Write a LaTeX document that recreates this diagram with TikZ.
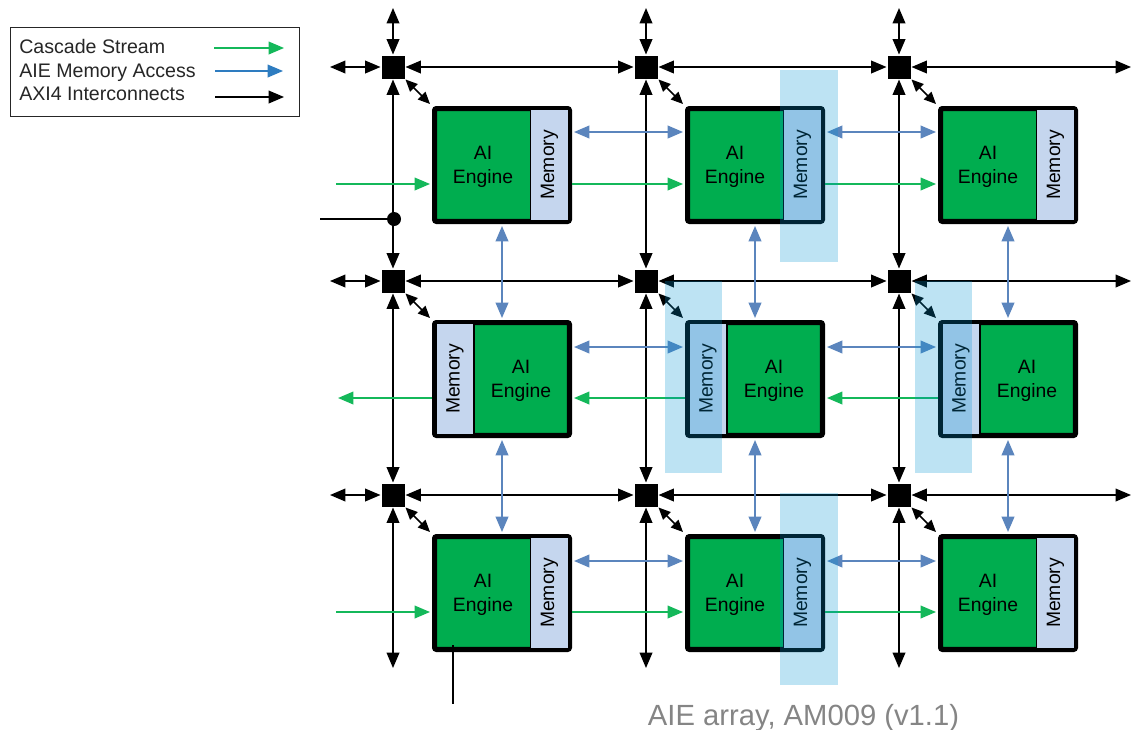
\documentclass[tikz,border=0pt]{standalone}
\usepackage{fontspec}
\setmainfont{Liberation Sans}
\usetikzlibrary{arrows.meta}
\definecolor{aiegreen}{HTML}{00AD4F}
\definecolor{memfill}{HTML}{C5D6EE}
\definecolor{cascgreen}{HTML}{14B85A}
\definecolor{memblue}{HTML}{5B85BD}
\definecolor{legblue}{HTML}{2E7CC0}
\definecolor{hilite}{HTML}{0094D2}
\definecolor{captgray}{HTML}{858585}
\tikzset{
    switchbox/.style={draw=none, fill=black, minimum size=17.25pt, inner sep=0pt, outer sep=0.75pt},
    tile/.style={draw=black, fill=aiegreen, line width=3.8pt, rounded corners=1.5pt, minimum width=101.2pt, minimum height=84.7pt, outer sep=3.4pt},
    engine/.style={align=center, inner sep=0pt, font=\fontsize{14.5}{18}\selectfont},
    memory/.style={draw=black, fill=memfill, line width=0.8pt, rotate=90, minimum width=83pt, minimum height=28.5pt, inner sep=0pt, font=\fontsize{14.5}{18}\selectfont},
    axi/.style={<->, line width=1.1pt},
    diag/.style={{Stealth[length=9pt,width=8pt,inset=0pt]}-{Stealth[length=9pt,width=8pt,inset=0pt]}, line width=1.1pt},
    memlink/.style={<->, memblue, line width=1.3pt},
    cascade/.style={->, cascgreen, line width=1.1pt},
    legendtext/.style={anchor=base west, inner sep=0pt, font=\fontsize{14.7}{18}\selectfont, text=black!85},
    highlight/.style={fill=hilite, fill opacity=0.26}
}
\begin{document}
\begin{tikzpicture}[>={Stealth[length=11.5pt,width=9.5pt,inset=0pt]}, x=0.75pt, y=-0.75pt]
    \useasboundingbox (0, 0) rectangle (1131, 729);

    % Legend
    \node[draw=black!85, line width=0.8pt, minimum width=216.75pt, minimum height=66.75pt, inner sep=0pt] (legend) at (155, 72) {};
    \node[legendtext] (legcasc) at (19, 53) {Cascade Stream};
    \node[legendtext] (legmem) at (19, 77) {AIE Memory Access};
    \node[legendtext] (legaxi) at (19, 100) {AXI4 Interconnects};
    \coordinate (legcasca) at (214, 48);
    \coordinate (legcascb) at (284, 48);
    \coordinate (legmema) at (215, 71);
    \coordinate (legmemb) at (283, 71);
    \coordinate (legaxia) at (215, 97);
    \coordinate (legaxib) at (284, 97);
    \draw[->, cascgreen, line width=1.1pt] (legcasca) -- (legcascb);
    \draw[->, legblue, line width=1.1pt] (legmema) -- (legmemb);
    \draw[->, line width=1.1pt] (legaxia) -- (legaxib);

    % Switches
    \node[switchbox] (sw11) at (393, 67) {};
    \node[switchbox] (sw12) at (646, 67) {};
    \node[switchbox] (sw13) at (899, 67) {};
    \node[switchbox] (sw21) at (393, 281) {};
    \node[switchbox] (sw22) at (646, 281) {};
    \node[switchbox] (sw23) at (899, 281) {};
    \node[switchbox] (sw31) at (393, 495) {};
    \node[switchbox] (sw32) at (646, 495) {};
    \node[switchbox] (sw33) at (899, 495) {};

    % Top row of tiles
    \node[tile] (tile11) at (502, 165) {};
    \node[tile] (tile12) at (755, 165) {};
    \node[tile] (tile13) at (1008, 165) {};
    \node[memory] (mem11) at (549.5, 165) {Memory};
    \node[memory] (mem12) at (802.5, 165) {Memory};
    \node[memory] (mem13) at (1055.5, 165) {Memory};
    \node[engine] (eng11) at (483, 167) {AI\\Engine};
    \node[engine] (eng12) at (735, 167) {AI\\Engine};
    \node[engine] (eng13) at (988, 167) {AI\\Engine};

    % Middle row of tiles
    \node[tile] (tile21) at (502, 379) {};
    \node[tile] (tile22) at (755, 379) {};
    \node[tile] (tile23) at (1008, 379) {};
    \node[memory] (mem21) at (455, 379) {Memory};
    \node[memory] (mem22) at (708, 379) {Memory};
    \node[memory] (mem23) at (961, 379) {Memory};
    \node[engine] (eng21) at (521, 381) {AI\\Engine};
    \node[engine] (eng22) at (774, 381) {AI\\Engine};
    \node[engine] (eng23) at (1027, 381) {AI\\Engine};

    % Bottom row of tiles
    \node[tile] (tile31) at (502, 593) {};
    \node[tile] (tile32) at (755, 593) {};
    \node[tile] (tile33) at (1008, 593) {};
    \node[memory] (mem31) at (549.5, 593) {Memory};
    \node[memory] (mem32) at (802.5, 593) {Memory};
    \node[memory] (mem33) at (1055.5, 593) {Memory};
    \node[engine] (eng31) at (483, 595) {AI\\Engine};
    \node[engine] (eng32) at (735, 595) {AI\\Engine};
    \node[engine] (eng33) at (988, 595) {AI\\Engine};

    % Free ends of the interconnects
    \coordinate (west1) at (330, 67);
    \coordinate (west2) at (330, 281);
    \coordinate (west3) at (330, 495);
    \coordinate (east1) at (1131, 67);
    \coordinate (east2) at (1131, 281);
    \coordinate (east3) at (1131, 495);
    \coordinate (north1) at (393, 8);
    \coordinate (north2) at (646, 8);
    \coordinate (north3) at (899, 8);
    \coordinate (south1) at (393, 668);
    \coordinate (south2) at (646, 668);
    \coordinate (south3) at (899, 668);

    % Horizontal interconnects
    \draw[axi] (west1) -- (sw11.west);
    \draw[axi] (sw11.east) -- (sw12.west);
    \draw[axi] (sw12.east) -- (sw13.west);
    \draw[axi] (sw13.east) -- (east1);
    \draw[axi] (west2) -- (sw21.west);
    \draw[axi] (sw21.east) -- (sw22.west);
    \draw[axi] (sw22.east) -- (sw23.west);
    \draw[axi] (sw23.east) -- (east2);
    \draw[axi] (west3) -- (sw31.west);
    \draw[axi] (sw31.east) -- (sw32.west);
    \draw[axi] (sw32.east) -- (sw33.west);
    \draw[axi] (sw33.east) -- (east3);

    % Vertical interconnects
    \draw[axi] (north1) -- (sw11.north);
    \draw[axi] (sw11.south) -- (sw21.north);
    \draw[axi] (sw21.south) -- (sw31.north);
    \draw[axi] (sw31.south) -- (south1);
    \draw[axi] (north2) -- (sw12.north);
    \draw[axi] (sw12.south) -- (sw22.north);
    \draw[axi] (sw22.south) -- (sw32.north);
    \draw[axi] (sw32.south) -- (south2);
    \draw[axi] (north3) -- (sw13.north);
    \draw[axi] (sw13.south) -- (sw23.north);
    \draw[axi] (sw23.south) -- (sw33.north);
    \draw[axi] (sw33.south) -- (south3);

    % Switch to tile
    \draw[diag] (sw11.south east) -- (tile11.north west);
    \draw[diag] (sw12.south east) -- (tile12.north west);
    \draw[diag] (sw13.south east) -- (tile13.north west);
    \draw[diag] (sw21.south east) -- (tile21.north west);
    \draw[diag] (sw22.south east) -- (tile22.north west);
    \draw[diag] (sw23.south east) -- (tile23.north west);
    \draw[diag] (sw31.south east) -- (tile31.north west);
    \draw[diag] (sw32.south east) -- (tile32.north west);
    \draw[diag] (sw33.south east) -- (tile33.north west);

    % Memory access, vertical
    \draw[memlink] (tile11.south) -- (tile21.north);
    \draw[memlink] (tile12.south) -- (tile22.north);
    \draw[memlink] (tile13.south) -- (tile23.north);
    \draw[memlink] (tile21.south) -- (tile31.north);
    \draw[memlink] (tile22.south) -- (tile32.north);
    \draw[memlink] (tile23.south) -- (tile33.north);

    % Memory access, horizontal
    \draw[memlink] ([shift={(0,-33)}]tile11.east) -- ([shift={(0,-33)}]tile12.west);
    \draw[memlink] ([shift={(0,-33)}]tile12.east) -- ([shift={(0,-33)}]tile13.west);
    \draw[memlink] ([shift={(0,-32)}]tile21.east) -- ([shift={(0,-32)}]tile22.west);
    \draw[memlink] ([shift={(0,-32)}]tile22.east) -- ([shift={(0,-32)}]tile23.west);
    \draw[memlink] ([shift={(0,-32)}]tile31.east) -- ([shift={(0,-32)}]tile32.west);
    \draw[memlink] ([shift={(0,-32)}]tile32.east) -- ([shift={(0,-32)}]tile33.west);

    % Cascade streams
    \coordinate (cascin1) at (336, 184);
    \coordinate (cascout2) at (338, 398);
    \coordinate (cascin3) at (336, 612);
    \draw[cascade] (cascin1) -- ([shift={(0,19)}]tile11.west);
    \draw[cascade] ([shift={(-2,19)}]tile11.east) -- ([shift={(0,19)}]tile12.west);
    \draw[cascade] ([shift={(-2,19)}]tile12.east) -- ([shift={(0,19)}]tile13.west);
    \draw[cascade] ([shift={(2,19)}]tile23.west) -- ([shift={(0,19)}]tile22.east);
    \draw[cascade] ([shift={(2,19)}]tile22.west) -- ([shift={(0,19)}]tile21.east);
    \draw[cascade] ([shift={(2,19)}]tile21.west) -- (cascout2);
    \draw[cascade] (cascin3) -- ([shift={(0,19)}]tile31.west);
    \draw[cascade] ([shift={(-2,19)}]tile31.east) -- ([shift={(0,19)}]tile32.west);
    \draw[cascade] ([shift={(-2,19)}]tile32.east) -- ([shift={(0,19)}]tile33.west);

    % Feed line and stub
    \node[circle, fill=black, minimum size=10.5pt, inner sep=0pt] (tap) at (394, 219) {};
    \coordinate (feed) at (320, 219);
    \draw[line width=1.7pt] (feed) -- (tap);
    \coordinate (stubtop) at (453, 645);
    \coordinate (stubend) at (453, 704);
    \draw[line width=1pt] (stubtop) -- (stubend);

    % Highlighted memories
    \fill[highlight] (780, 70) rectangle (838, 262);
    \fill[highlight] (665, 281) rectangle (722, 473);
    \fill[highlight] (915, 281) rectangle (972, 473);
    \fill[highlight] (780, 493) rectangle (838, 685);

    % Caption
    \node[anchor=base, text=captgray, inner sep=0pt, font=\fontsize{21.9}{24}\selectfont] (caption) at (803.5, 725) {AIE array, AM009 (v1.1)};
\end{tikzpicture}
\end{document}
